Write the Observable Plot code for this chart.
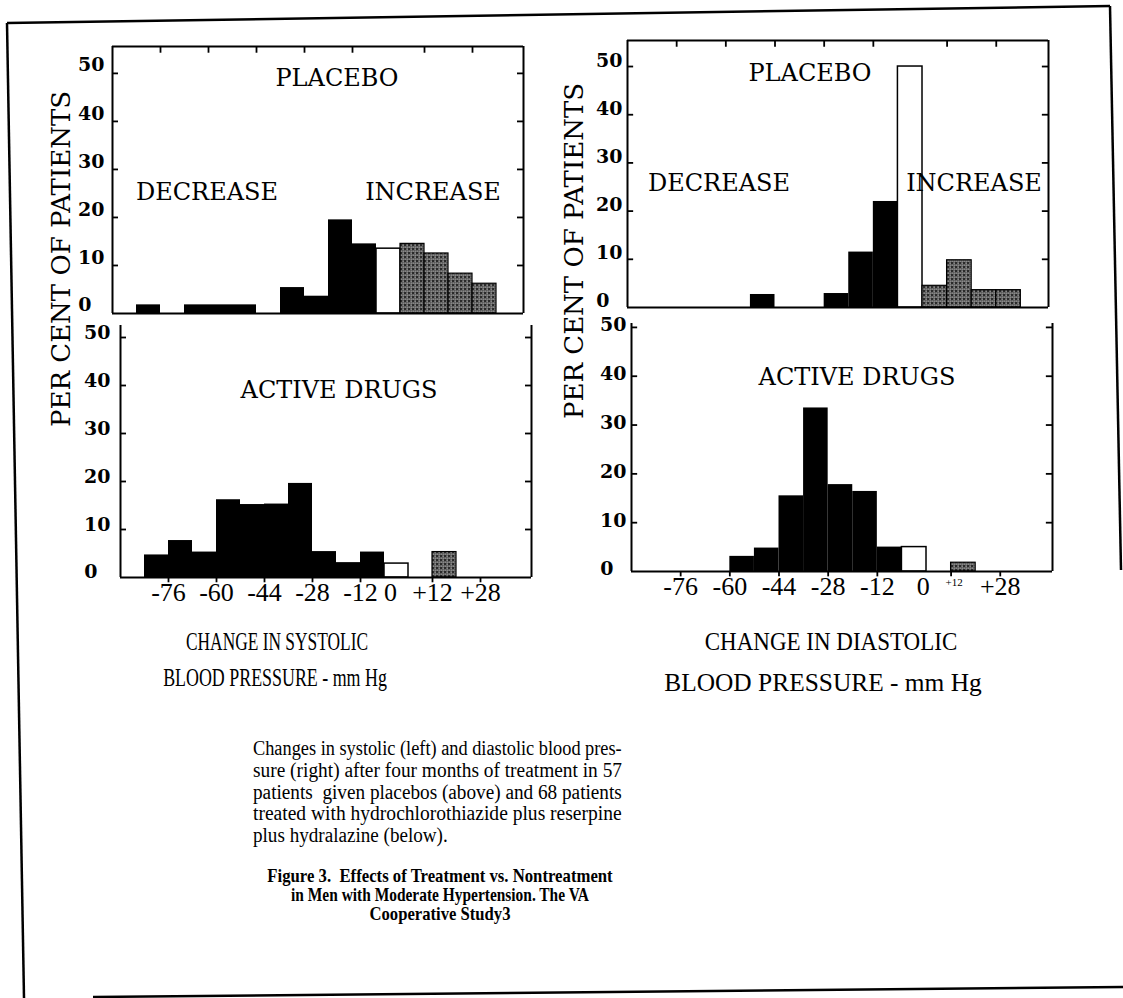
<!DOCTYPE html>
<html>
<head>
<meta charset="utf-8">
<script src="https://cdn.jsdelivr.net/npm/d3@7"></script>
<script src="https://cdn.jsdelivr.net/npm/@observablehq/plot@0.6"></script>
<style>
  html, body { margin: 0; padding: 0; background: #fff; }
  #root { position: relative; width: 1123px; height: 998px; overflow: hidden; background: #fff; color: #000; }
  .abs { position: absolute; white-space: nowrap; line-height: 1; }
  .lbl { font-family: "DejaVu Serif", serif; font-size: 24px; transform: translate(-50%, -50%); }
  .ytitle { font-family: "DejaVu Serif", serif; font-size: 26px; transform: translate(-50%, -50%) rotate(-90deg); }
  .xtitle { font-family: "Liberation Serif", serif; font-size: 25px; }
  .cap { font-family: "Liberation Serif", serif; font-size: 20px; }
  .figt { font-family: "Liberation Serif", serif; font-weight: bold; font-size: 19px; }
</style>
</head>
<body>
<div id="root"></div>
<script>
// ---- data (per cent of patients per 8 mm Hg bin, bins centred on these values) ----
const binCenters = [-80, -72, -64, -56, -48, -40, -32, -24, -16, -8, 0, 8, 16, 24, 32];
const systolicPlacebo = [1.8, 0, 1.8, 1.8, 1.8, 0, 5.4, 3.6, 19.5, 14.5, 13.5, 14.5, 12.5, 8.3, 6.2];
const systolicActive  = [4.7, 7.7, 5.3, 16.2, 15.2, 15.3, 19.6, 5.4, 3.1, 5.3, 2.9, 0, 5.3, 0, 0];
const diastolicPlacebo = [0, 0, 0, 0, 2.7, 0, 0, 2.9, 11.5, 22, 50, 4.5, 9.8, 3.6, 3.6];
const diastolicActive  = [0, 0, 0, 3.1, 4.8, 15.5, 33.5, 17.8, 16.4, 5.0, 5.0, 0, 1.8, 0, 0];
const xTickValues = [-76, -60, -44, -28, -12, 12, 28];
const xTickLabels = ["-76", "-60", "-44", "-28", "-12", "+12", "+28"];
const yTickValues = [0, 10, 20, 30, 40, 50];
const binWidth = 8;
const xDomain = [-92, 45];

const root = document.getElementById("root");

function table(values) {
  return binCenters.map((c, i) => ({c, v: values[i]})).filter(d => d.v > 0);
}

function addPattern(svg, id) {
  const ns = "http://www.w3.org/2000/svg";
  const defs = document.createElementNS(ns, "defs");
  const pat = document.createElementNS(ns, "pattern");
  pat.setAttribute("id", id);
  pat.setAttribute("patternUnits", "userSpaceOnUse");
  pat.setAttribute("width", "4");
  pat.setAttribute("height", "4");
  const bg = document.createElementNS(ns, "rect");
  bg.setAttribute("width", "4"); bg.setAttribute("height", "4"); bg.setAttribute("fill", "#2a2a2a");
  pat.appendChild(bg);
  [[0.5, 0.5], [2.5, 2.5], [2.5, 0.5]].forEach(([x, y]) => {
    const r = document.createElementNS(ns, "rect");
    r.setAttribute("x", x); r.setAttribute("y", y);
    r.setAttribute("width", "1.2"); r.setAttribute("height", "1.2");
    r.setAttribute("fill", "#e8e8e8");
    pat.appendChild(r);
  });
  defs.appendChild(pat);
  svg.insertBefore(defs, svg.firstChild);
}

function panel({values, plotLeft, plotTop, plotW, plotH, yTop, isTop, id, zeroDx, smallLabel, labelDx, labelDy}) {
  const mL = 60, mR = 14, mT = 12, mB = isTop ? 12 : 50;
  const data = table(values);
  const marks = [
    Plot.rectY(data.filter(d => d.c < 0), {x1: d => d.c - binWidth / 2, x2: d => d.c + binWidth / 2, y: "v", fill: "black"}),
    Plot.rectY(data.filter(d => d.c === 0), {x1: d => d.c - binWidth / 2, x2: d => d.c + binWidth / 2, y: "v", fill: "white", stroke: "black", strokeWidth: 1.5}),
    Plot.rectY(data.filter(d => d.c > 0), {x1: d => d.c - binWidth / 2, x2: d => d.c + binWidth / 2, y: "v", fill: `url(#${id})`, stroke: "black", strokeWidth: 1.2}),
    // frame
    Plot.ruleX(xDomain, {y1: 0, y2: yTop, stroke: "black", strokeWidth: 2}),
    Plot.ruleY([0], {x1: xDomain[0], x2: xDomain[1], stroke: "black", strokeWidth: 2}),
    // inward y ticks on both sides
    Plot.ruleY(yTickValues.slice(1), {x1: xDomain[0], x2: xDomain[0] + 2, stroke: "black", strokeWidth: 1.8}),
    Plot.ruleY(yTickValues.slice(1), {x1: xDomain[1] - 2, x2: xDomain[1], stroke: "black", strokeWidth: 1.8}),
    // y tick labels (the single "0" sits further left)
    Plot.text(yTickValues.slice(1), {y: d => d, text: d => String(d), frameAnchor: "left", textAnchor: "end", dx: labelDx, dy: labelDy,
      fontWeight: "bold", fontSize: 19, fontFamily: "DejaVu Serif"}),
    Plot.text([0], {y: d => d, text: d => String(d), frameAnchor: "left", textAnchor: "end", dx: labelDx - 13, dy: labelDy - 1,
      fontWeight: "bold", fontSize: 19, fontFamily: "DejaVu Serif"})
  ];
  if (isTop) {
    marks.push(Plot.ruleY([yTop], {x1: xDomain[0], x2: xDomain[1], stroke: "black", strokeWidth: 2}));
    marks.push(Plot.ruleX(xTickValues, {y1: yTop, y2: yTop - 1.4, stroke: "black", strokeWidth: 1.8}));
  } else {
    marks.push(Plot.ruleX(xTickValues, {y1: 0, y2: -1.1, stroke: "black", strokeWidth: 1.8}));
    const ticks = xTickValues.map((x, i) => ({x, t: xTickLabels[i], small: smallLabel === xTickLabels[i]}));
    marks.push(Plot.text(ticks.filter(d => !d.small), {x: "x", text: "t", fontSize: 26, frameAnchor: "bottom", dy: 23, fontFamily: "Liberation Serif"}));
    marks.push(Plot.text(ticks.filter(d => d.small), {x: "x", text: "t", fontSize: 11, frameAnchor: "bottom", dy: 14, dx: 3, fontFamily: "Liberation Serif"}));
    marks.push(Plot.text([0], {x: d => d, text: d => String(d), frameAnchor: "bottom", dy: 23, dx: zeroDx, fontSize: 26, fontFamily: "Liberation Serif"}));
  }
  const svg = Plot.plot({
    width: plotW + mL + mR,
    height: plotH + mT + mB,
    marginLeft: mL, marginRight: mR, marginTop: mT, marginBottom: mB,
    x: {domain: xDomain, axis: null},
    y: {domain: [0, yTop], axis: null},
    style: {background: "transparent", color: "black", overflow: "visible", fontFamily: "DejaVu Serif"},
    marks
  });
  addPattern(svg, id);
  const wrap = document.createElement("div");
  wrap.className = "abs";
  wrap.style.left = (plotLeft - mL) + "px";
  wrap.style.top = (plotTop - mT) + "px";
  wrap.appendChild(svg);
  root.appendChild(wrap);
}

panel({values: systolicPlacebo, plotLeft: 112, plotTop: 46, plotW: 411, plotH: 267, yTop: 55.6, isTop: true, id: "stipA", labelDx: -8, labelDy: -8});
panel({values: systolicActive, plotLeft: 120, plotTop: 325, plotW: 411, plotH: 252, yTop: 52.5, isTop: false, id: "stipB", zeroDx: -6, labelDx: -10, labelDy: -5});
panel({values: diastolicPlacebo, plotLeft: 627, plotTop: 40, plotW: 421, plotH: 267, yTop: 55.4, isTop: true, id: "stipC", labelDx: -5, labelDy: -6});
panel({values: diastolicActive, plotLeft: 631, plotTop: 323, plotW: 421, plotH: 248, yTop: 50.8, isTop: false, id: "stipD", zeroDx: 9, smallLabel: "+12", labelDx: -5, labelDy: -2});

// ---- outer border of the figure ----
const ns = "http://www.w3.org/2000/svg";
const border = document.createElementNS(ns, "svg");
border.setAttribute("width", 1123); border.setAttribute("height", 998);
border.style.position = "absolute"; border.style.left = "0"; border.style.top = "0";
[[7, 23, 1110, 6], [7, 23, 24, 998], [1110, 6, 1121, 570], [93, 997, 1123, 987]].forEach(([x1, y1, x2, y2]) => {
  const l = document.createElementNS(ns, "line");
  l.setAttribute("x1", x1); l.setAttribute("y1", y1); l.setAttribute("x2", x2); l.setAttribute("y2", y2);
  l.setAttribute("stroke", "black"); l.setAttribute("stroke-width", 2.5);
  border.appendChild(l);
});
root.appendChild(border);

// ---- text ----
function put(cls, text, x, y) {
  const d = document.createElement("div");
  d.className = "abs " + cls;
  d.style.left = x + "px"; d.style.top = y + "px";
  d.textContent = text;
  root.appendChild(d);
  return d;
}
// centred text squeezed/stretched horizontally to a target width
function fitCentered(cls, text, cx, cy, width) {
  const d = put(cls, text, cx, cy);
  d.style.whiteSpace = "pre";
  const k = width / d.offsetWidth;
  d.style.transform = `translate(-50%, -50%) scaleX(${k})`;
  return k;
}
// left-aligned line fitted to a target width
function fitLeft(cls, text, x, cy, width, fixedK) {
  const d = put(cls, text, x, cy);
  d.style.whiteSpace = "pre";
  const k = fixedK || width / d.offsetWidth;
  d.style.transformOrigin = "0 50%";
  d.style.transform = `translateY(-50%) scaleX(${k})`;
  return k;
}

put("lbl", "PLACEBO", 337, 78);
put("lbl", "DECREASE", 207, 192);
put("lbl", "INCREASE", 433, 192);
put("lbl", "PLACEBO", 810, 73);
put("lbl", "DECREASE", 719, 183);
put("lbl", "INCREASE", 974, 183);
put("lbl", "ACTIVE DRUGS", 339, 390);
put("lbl", "ACTIVE DRUGS", 857, 377);
put("ytitle", "PER CENT OF PATIENTS", 61, 259);
put("ytitle", "PER CENT OF PATIENTS", 574, 251);

fitCentered("xtitle", "CHANGE IN SYSTOLIC", 277, 641, 182);
fitCentered("xtitle", "BLOOD PRESSURE - mm Hg", 275, 677, 224);
fitCentered("xtitle", "CHANGE IN DIASTOLIC", 831, 641, 253);
fitCentered("xtitle", "BLOOD PRESSURE - mm Hg", 823, 682, 318);

const captionLines = [
  "Changes in systolic (left) and diastolic blood pres-",
  "sure (right) after four months of treatment in 57",
  "patients  given placebos (above) and 68 patients",
  "treated with hydrochlorothiazide plus reserpine",
  "plus hydralazine (below)."
];
let ks = [];
captionLines.slice(0, 4).forEach((t, i) => { ks.push(fitLeft("cap", t, 253, 748 + i * 21.8, 369)); });
fitLeft("cap", captionLines[4], 253, 748 + 4 * 21.8, 0, d3.mean(ks));

const titleLines = [
  "Figure 3.  Effects of Treatment vs. Nontreatment",
  "in Men with Moderate Hypertension. The VA",
  "Cooperative Study3"
];
const titleWidths = [345, 298, 141];
titleLines.forEach((t, i) => fitCentered("figt", t, 440, 875 + i * 19, titleWidths[i]));
</script>
</body>
</html>
